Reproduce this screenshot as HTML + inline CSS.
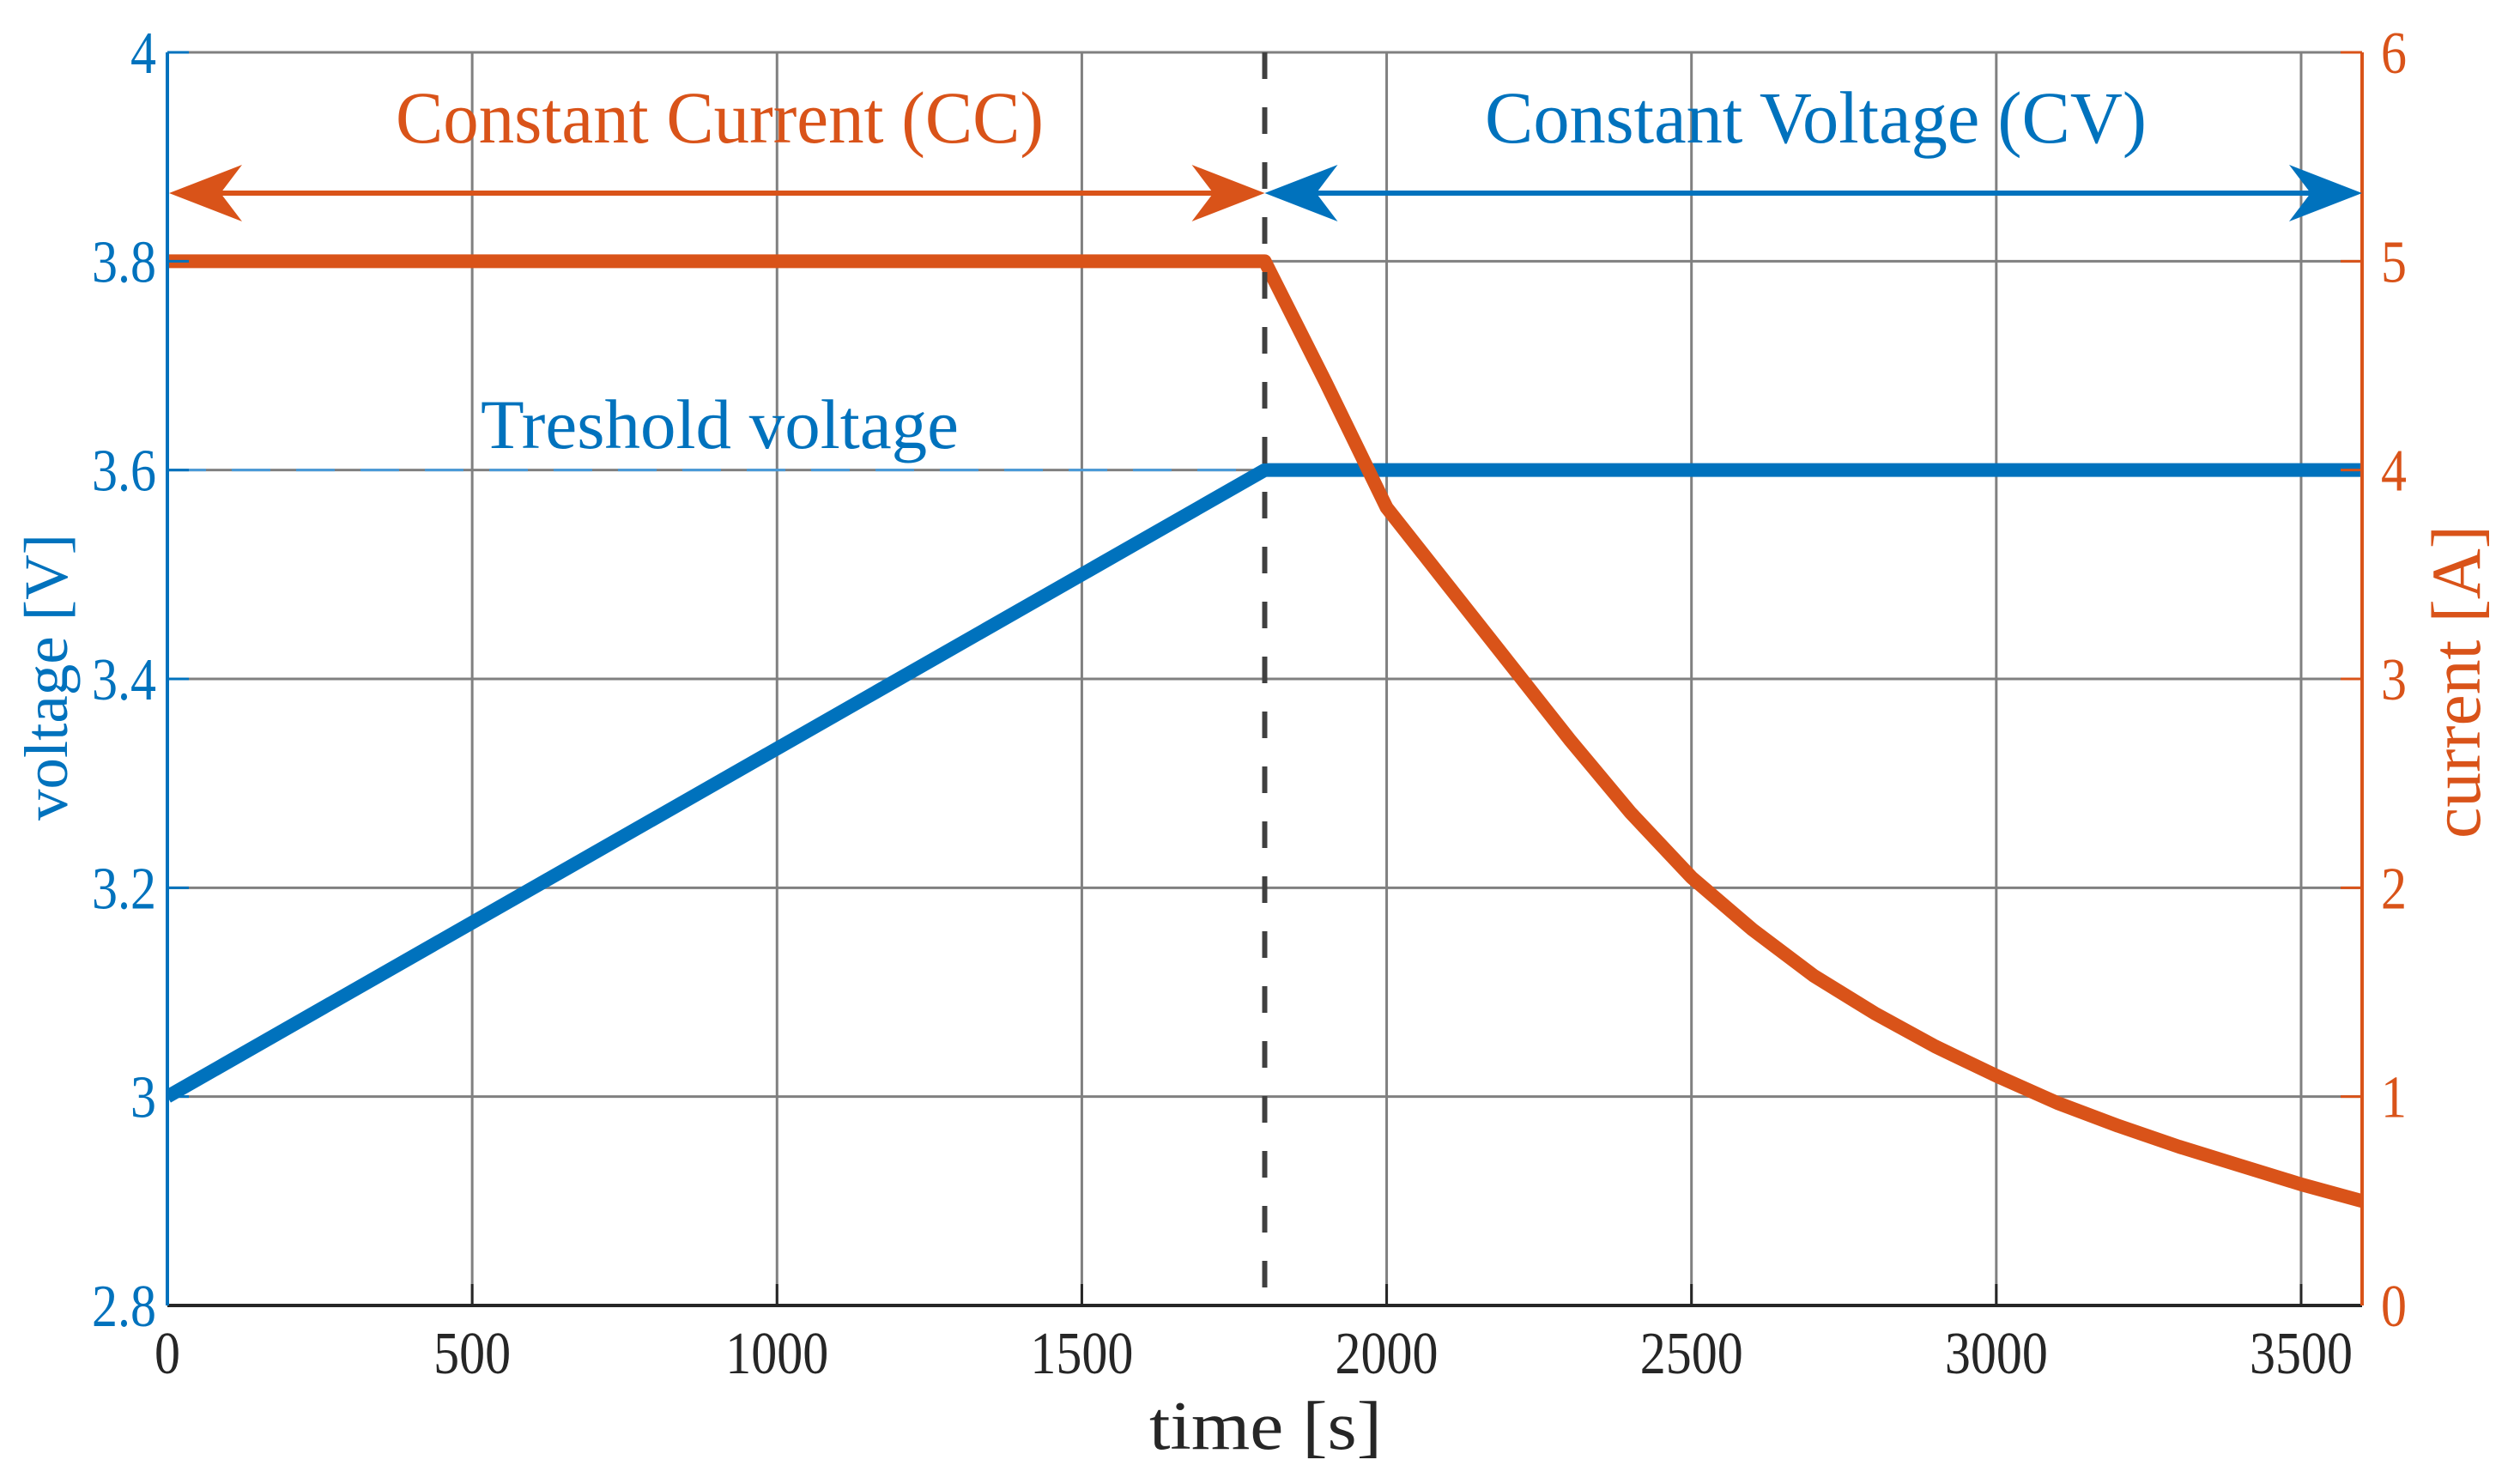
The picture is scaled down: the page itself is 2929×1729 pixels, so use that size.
<!DOCTYPE html>
<html><head><meta charset="utf-8"><style>
html,body{margin:0;padding:0;background:#fff;}
svg{display:block;}
text{font-family:"Liberation Serif",serif;}
</style></head><body>
<svg id="chart" width="2929" height="1729" viewBox="0 0 2929 1729" xmlns="http://www.w3.org/2000/svg">
<defs>
<clipPath id="plotclip"><rect x="195" y="61" width="2557" height="1460"/></clipPath>
</defs>
<g id="grid"></g>
<g id="series" clip-path="url(#plotclip)"></g>
<g id="axes"></g>
<g id="annot"></g>
</svg>
<script>
const timeTicks = [0,500,1000,1500,2000,2500,3000,3500];
const voltTicks = [2.8,3.0,3.2,3.4,3.6,3.8,4.0];
const voltTickLabels = ["2.8","3","3.2","3.4","3.6","3.8","4"];
const currTicks = [0,1,2,3,4,5,6];
const currTickLabels = ["0","1","2","3","4","5","6"];
const voltTime = [0,1800,3600];
const voltValues = [3.0,3.6,3.6];
const currTime = [0,1800,1900,2000,2100,2200,2300,2400,2500,2600,2700,2800,2900,3000,3100,3200,3300,3400,3500,3600];
const currValues = [5,5,4.42,3.82,3.45,3.08,2.71,2.36,2.05,1.8,1.58,1.4,1.24,1.1,0.97,0.86,0.76,0.67,0.58,0.5];
const thresholdVoltage = 3.6;
const switchTime = 1800;

const L=195,R=2752,T=61,B=1521;
const BLUE="#0072BD",ORANGE="#D95319",NS="http://www.w3.org/2000/svg";
const xS=t=>L+(t-0)/(3600-0)*(R-L);
const yV=v=>B-(v-2.8)/(4-2.8)*(B-T);
const yC=c=>B-(c-0)/(6-0)*(B-T);
function mk(tag,attrs,parent){const e=document.createElementNS(NS,tag);for(const k in attrs)e.setAttribute(k,attrs[k]);parent.appendChild(e);return e;}
function tw(s){let w=0;for(const ch of s)w+=(ch==='.'?15:30);return w;}
const grid=document.getElementById('grid'),series=document.getElementById('series'),axes=document.getElementById('axes'),annot=document.getElementById('annot');

timeTicks.forEach(t=>{
  const g=mk('line',{x1:xS(t),x2:xS(t),y1:T,y2:B,stroke:'#808080','stroke-width':3},grid);
  
  
  const tk=mk('line',{x1:xS(t),x2:xS(t),y1:B,y2:B-25,stroke:'#262626','stroke-width':3},axes);
  
  
  const s=String(t);
  const tx=mk('text',{x:xS(t),y:1600,'text-anchor':'middle','font-size':70,fill:'#262626',textLength:tw(s),lengthAdjust:'spacingAndGlyphs'},axes);
  tx.textContent=s;
  
  
});
voltTicks.forEach((v,i)=>{
  const g=mk('line',{x1:L,x2:R,y1:yV(v),y2:yV(v),stroke:'#808080','stroke-width':3},grid);
  
  
  const tk=mk('line',{x1:L,x2:L+25,y1:yV(v),y2:yV(v),stroke:BLUE,'stroke-width':3},axes);
  
  
  const s=voltTickLabels[i];
  const tx=mk('text',{x:182,y:yV(v)+24,'text-anchor':'end','font-size':70,fill:BLUE,textLength:tw(s),lengthAdjust:'spacingAndGlyphs'},axes);
  tx.textContent=s;
  
  
});
currTicks.forEach((c,i)=>{
  const tk=mk('line',{x1:R,x2:R-25,y1:yC(c),y2:yC(c),stroke:ORANGE,'stroke-width':3},axes);
  
  
  const s=currTickLabels[i];
  const tx=mk('text',{x:2774,y:yC(c)+24,'font-size':70,fill:ORANGE,textLength:tw(s),lengthAdjust:'spacingAndGlyphs'},axes);
  tx.textContent=s;
  
  
});
let a;
a=mk('line',{x1:L,x2:R,y1:B,y2:B,stroke:'#262626','stroke-width':4},axes);


a=mk('line',{x1:L,x2:L,y1:T,y2:B,stroke:BLUE,'stroke-width':4},axes);


a=mk('line',{x1:R,x2:R,y1:T,y2:B,stroke:ORANGE,'stroke-width':4},axes);



a=mk('line',{x1:xS(0),x2:xS(switchTime),y1:yV(thresholdVoltage),y2:yV(thresholdVoltage),stroke:'#4a9ad8','stroke-width':3,'stroke-dasharray':'45 30'},series);


let vp=voltTime.map((t,i)=>xS(t)+','+yV(voltValues[i])).join(' ');
a=mk('polyline',{points:vp,fill:'none',stroke:BLUE,'stroke-width':16,'stroke-linejoin':'round'},series);


let cp=currTime.map((t,i)=>xS(t)+','+yC(currValues[i])).join(' ');
a=mk('polyline',{points:cp,fill:'none',stroke:ORANGE,'stroke-width':16,'stroke-linejoin':'round'},series);


a=mk('line',{x1:xS(switchTime),x2:xS(switchTime),y1:T,y2:B,stroke:'#404040','stroke-width':6,'stroke-dasharray':'31 33'},annot);



function head(x,y,dir,color){
  const len=85,h=33,notch=60;
  const p=[[x,y],[x+dir*len,y-h],[x+dir*notch,y],[x+dir*len,y+h]].map(q=>q.join(',')).join(' ');
  return mk('polygon',{points:p,fill:color},annot);
}
const ay=225,xm=xS(switchTime);
a=mk('line',{x1:L+40,x2:xm-40,y1:ay,y2:ay,stroke:ORANGE,'stroke-width':6},annot);


a=head(L+2,ay,1,ORANGE);


a=head(xm,ay,-1,ORANGE);


a=mk('line',{x1:xm+40,x2:R-40,y1:ay,y2:ay,stroke:BLUE,'stroke-width':6},annot);


a=head(xm,ay,1,BLUE);


a=head(R,ay,-1,BLUE);


</script>
<svg style="position:absolute;left:0;top:0" width="2929" height="1729">
<text x="461" y="166" font-size="86" fill="#D95319" textLength="755" lengthAdjust="spacingAndGlyphs" style="font-family:'Liberation Serif',serif">Constant Current (CC)</text>
<text x="1730" y="166" font-size="86" fill="#0072BD" textLength="771" lengthAdjust="spacingAndGlyphs" style="font-family:'Liberation Serif',serif">Constant Voltage (CV)</text>
<text x="560" y="522" font-size="82" fill="#0072BD" textLength="557" lengthAdjust="spacingAndGlyphs" style="font-family:'Liberation Serif',serif">Treshold voltage</text>
<text x="1339" y="1688" font-size="80" fill="#262626" textLength="271" lengthAdjust="spacingAndGlyphs" style="font-family:'Liberation Serif',serif">time  [s]</text>
<text transform="translate(78,956) rotate(-90)" x="0" y="0" font-size="72" fill="#0072BD" textLength="334" lengthAdjust="spacingAndGlyphs" style="font-family:'Liberation Serif',serif">voltage [V]</text>
<text transform="translate(2889,977) rotate(-90)" x="0" y="0" font-size="82" fill="#D95319" textLength="365" lengthAdjust="spacingAndGlyphs" style="font-family:'Liberation Serif',serif">current [A]</text>
</svg>
</body></html>
